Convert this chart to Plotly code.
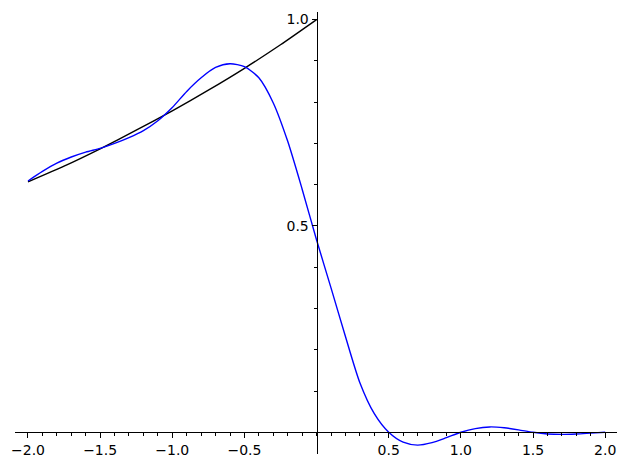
import plotly.graph_objects as go

# black curve
black_x = [-2.0, -1.75, -1.5, -1.25, -1.0, -0.75, -0.5, -0.25, 0.0]
black_y = [0.607, 0.645, 0.687, 0.732, 0.779, 0.829, 0.882, 0.939, 1.0]

# blue curve
blue_x = [-2.0, -1.9, -1.8, -1.7, -1.6, -1.5, -1.4, -1.3, -1.2, -1.1,
          -1.0, -0.9, -0.8, -0.7, -0.6, -0.5, -0.4, -0.3, -0.2, -0.1,
          0.0, 0.1, 0.2, 0.3, 0.4, 0.5, 0.6, 0.7, 0.8, 0.9,
          1.0, 1.1, 1.2, 1.3, 1.4, 1.5, 1.6, 1.7, 1.8, 1.9, 2.0]
blue_y = [0.609, 0.632, 0.652, 0.667, 0.679, 0.688, 0.700, 0.714, 0.731, 0.755,
          0.787, 0.826, 0.859, 0.884, 0.893, 0.886, 0.859, 0.798, 0.705, 0.589,
          0.466, 0.350, 0.232, 0.120, 0.045, 0.0, -0.024, -0.031, -0.025, -0.013,
          0.0, 0.009, 0.013, 0.011, 0.006, 0.0, -0.004, -0.005, -0.004, -0.002, 0.0]

x_tickvals = [-2.0, -1.5, -1.0, -0.5, 0.5, 1.0, 1.5, 2.0]
x_ticktext = ["\u22122.0", "\u22121.5", "\u22121.0", "\u22120.5", "0.5", "1.0", "1.5", "2.0"]
y_tickvals = [0.5, 1.0]
y_ticktext = ["0.5", "1.0"]

x_range = [-2.090, 2.082]
y_range = [-0.0526, 1.0184]

fig = go.Figure()
fig.add_trace(go.Scatter(x=black_x, y=black_y, mode="lines",
                         line=dict(color="black", width=1.4, shape="spline", smoothing=0.6),
                         showlegend=False, hoverinfo="skip"))
fig.add_trace(go.Scatter(x=blue_x, y=blue_y, mode="lines",
                         line=dict(color="blue", width=1.4, shape="spline", smoothing=0.7),
                         showlegend=False, hoverinfo="skip"))

xpos = (0 - y_range[0]) / (y_range[1] - y_range[0])
ypos = (0 - x_range[0]) / (x_range[1] - x_range[0])

# page body has an 8px margin; size figure to fit the 626x466 window
fig.update_layout(
    width=618, height=458,
    margin=dict(l=7, r=9, t=4, b=12),
    plot_bgcolor="white", paper_bgcolor="white",
    font=dict(family="DejaVu Sans", size=14, color="black"),
    xaxis=dict(range=x_range, anchor="free", position=xpos, automargin=False,
               showline=True, linecolor="black", linewidth=1,
               showgrid=False, zeroline=False,
               tickmode="array", tickvals=x_tickvals, ticktext=x_ticktext,
               ticks="outside", ticklen=5, tickwidth=1, tickcolor="black",
               minor=dict(dtick=0.1, tick0=0, ticks="outside", ticklen=3,
                          tickwidth=1, tickcolor="black", showgrid=False)),
    yaxis=dict(range=y_range, anchor="free", position=ypos, automargin=False,
               showline=True, linecolor="black", linewidth=1,
               showgrid=False, zeroline=False,
               tickmode="array", tickvals=y_tickvals, ticktext=y_ticktext,
               ticks="outside", ticklen=5, tickwidth=1, tickcolor="black",
               minor=dict(dtick=0.1, tick0=0, ticks="outside", ticklen=3,
                          tickwidth=1, tickcolor="black", showgrid=False)),
)

fig.write_html("out.html")
